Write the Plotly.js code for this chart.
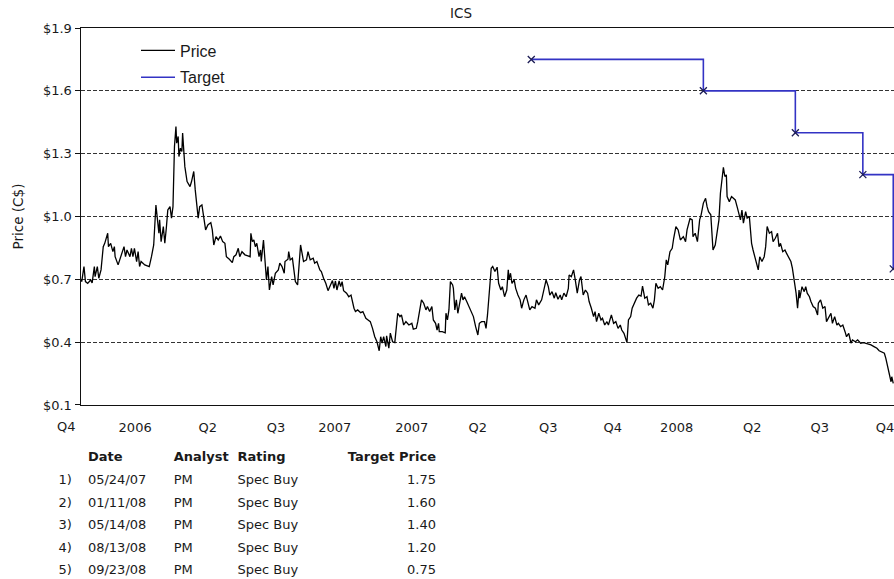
<!DOCTYPE html>
<html>
<head>
<meta charset="utf-8">
<script src="https://cdn.plot.ly/plotly-3.0.1.min.js"></script>
<style>
  html, body { margin: 0; padding: 0; background: #fff; overflow: hidden; }
  #chart { width: 894px; height: 579px; }
</style>
</head>
<body>
<div id="chart"></div>
<script>
// ---------------- data ----------------
const chartTitle = 'ICS';
const priceStart = '2005-09-24';            // day 0 of the price series
// days since priceStart
const priceDay = [
  0,1,4,6,9,13,15,18,19,22,
  24,27,30,32,36,37,40,43,45,46,
  50,52,55,58,60,62,66,68,70,72,
  75,77,79,81,86,92,95,98,101,103,
  105,106,108,111,113,115,117,120,122,124,
  126,128,129,131,132,134,136,137,140,143,
  147,149,152,154,157,158,160,163,166,168,
  171,175,177,179,182,185,188,191,194,196,
  200,204,206,209,212,214,217,221,225,228,
  229,231,233,235,237,240,242,243,246,248,
  250,252,254,257,259,262,266,268,271,274,
  275,279,
  280,282,285,287,289,292,294,296,298,300,
  304,306,309,313,315,318,322,324,327,330,
  333,336,339,341,343,345,348,350,352,354,
  358,361,364,368,370,373,377,380,384,387,
  390,393,396,399,402,404,406,408,411,412,
  415,417,420,423,425,427,430,432,435,438,
  442,446,448,452,454,457,459,462,465,467,
  470,473,475,478,480,482,483,487,491,492,
  494,496,498,501,502,504,506,508,510,513,
  515,517,520,523,526,529,532,535,537,540,
  544,546,548,
  551,553,555,558,561,563,566,568,571,574,
  576,577,579,581,584,586,589,592,594,597,
  600,603,605,608,612,614,617,621,624,627,
  630,632,635,638,640,643,646,648,651,654,
  657,658,661,664,666,669,672,674,677,680,
  683,685,688,691,693,695,698,701,703,706,
  709,711,715,718,721,724,727,729,732,735,
  736,738,741,743,746,749,752,755,757,760,
  763,765,768,771,773,775,778,781,784,787,
  789,791,794,797,799,802,805,808,812,815,
  817,820,
  821,824,825,828,831,834,836,839,842,844,
  846,849,851,852,855,858,860,862,864,866,
  868,870,871,874,877,879,882,885,887,889,
  891,893,896,898,901,904,906,909,911,913,
  915,918,921,923,925,928,931,933,936,939,
  941,943,946,949,951,954,957,959,962,964,
  966,968,969,972,975,977,979,982,984,987,
  990,993,994,997,1000,1003,1005,1008,1011,1013,
  1016,1019,1021,1024,1027,1030,1032,1035,1038,1040,
  1044,1047,1051,1055,1058,1062,1065,1069,1073,1076,
  1080,1083,1085,1088,1090,1092,1093,1095
];
// closing price, C$
const priceValue = [
  0.700,0.689,0.761,0.689,0.681,0.697,0.683,0.761,0.713,0.761,
  0.705,0.745,0.856,0.872,0.920,0.856,0.872,0.832,0.856,0.808,
  0.769,0.793,0.817,0.856,0.808,0.840,0.808,0.848,0.808,0.848,
  0.785,0.832,0.761,0.785,0.769,0.761,0.808,0.864,1.055,0.984,
  0.920,0.984,0.880,0.952,0.872,0.944,1.031,1.047,0.992,1.047,
  1.334,1.429,1.350,1.382,1.286,1.326,1.310,1.398,1.238,1.167,
  1.143,1.167,1.215,1.127,1.031,0.992,1.047,1.055,0.984,0.936,
  0.960,0.971,0.936,0.864,0.904,0.888,0.907,0.880,0.872,0.808,
  0.796,0.780,0.808,0.817,0.848,0.808,0.832,0.817,0.812,0.808,
  0.920,0.880,0.888,0.856,0.872,0.808,0.840,0.785,0.888,0.761,
  0.697,0.761,0.649,0.713,0.673,0.729,0.745,0.777,0.761,0.729,
  0.785,0.796,
  0.832,0.793,0.801,0.745,0.689,0.673,0.793,0.864,0.825,0.785,
  0.793,0.832,0.793,0.801,0.777,0.785,0.745,0.737,0.705,0.681,
  0.646,0.673,0.694,0.657,0.692,0.649,0.692,0.665,0.689,0.646,
  0.634,0.617,0.625,0.562,0.546,0.554,0.541,0.546,0.514,0.506,
  0.498,0.466,0.426,0.402,0.359,0.426,0.395,0.426,0.379,0.430,
  0.371,0.443,0.402,0.398,0.458,0.538,0.522,0.530,0.482,0.498,
  0.482,0.490,0.462,0.466,0.498,0.554,0.602,0.586,0.554,0.570,
  0.546,0.570,0.506,0.490,0.458,0.490,0.450,0.450,0.445,0.538,
  0.506,0.554,0.689,0.673,0.657,0.554,0.602,0.538,0.586,0.634,
  0.602,0.617,0.594,0.570,0.538,0.522,0.474,0.434,0.490,0.498,
  0.498,0.466,0.530,
  0.697,0.753,0.761,0.737,0.758,0.681,0.649,0.665,0.617,0.649,
  0.745,0.697,0.729,0.681,0.697,0.657,0.625,0.602,0.562,0.602,
  0.625,0.578,0.554,0.570,0.562,0.602,0.578,0.602,0.657,0.697,
  0.665,0.625,0.641,0.610,0.636,0.605,0.625,0.602,0.634,0.617,
  0.657,0.721,0.713,0.745,0.705,0.634,0.697,0.713,0.625,0.649,
  0.634,0.594,0.562,0.522,0.546,0.498,0.538,0.506,0.514,0.482,
  0.498,0.482,0.530,0.490,0.498,0.466,0.482,0.458,0.442,0.410,
  0.398,0.506,0.522,0.562,0.586,0.610,0.625,0.620,0.668,0.610,
  0.617,0.578,0.586,0.562,0.602,0.681,0.657,0.665,0.649,0.713,
  0.793,0.769,0.832,0.848,0.896,0.952,0.936,0.888,0.904,0.880,
  0.936,0.987,
  0.990,0.984,0.904,0.920,0.880,0.984,1.008,1.064,1.087,1.047,
  1.023,1.008,0.888,0.840,0.864,0.952,0.984,1.111,1.175,1.235,
  1.191,1.199,1.095,1.071,1.095,1.087,1.079,1.040,1.016,0.984,
  1.031,0.968,1.023,0.992,1.000,0.872,0.840,0.793,0.777,0.745,
  0.808,0.785,0.808,0.856,0.952,0.920,0.928,0.880,0.896,0.920,
  0.856,0.872,0.832,0.840,0.825,0.808,0.785,0.753,0.689,0.634,
  0.562,0.649,0.610,0.665,0.641,0.665,0.634,0.617,0.594,0.570,
  0.562,0.530,0.586,0.602,0.562,0.570,0.498,0.522,0.538,0.490,
  0.522,0.482,0.490,0.474,0.482,0.450,0.426,0.442,0.395,0.411,
  0.402,0.411,0.395,0.398,0.395,0.391,0.387,0.379,0.371,0.359,
  0.350,0.347,0.323,0.267,0.243,0.211,0.235,0.203
];

// analyst targets (table + target line)
const targetDates   = ['2007-05-24', '2008-01-11', '2008-05-14', '2008-08-13', '2008-09-23'];
const targetAnalyst = ['PM', 'PM', 'PM', 'PM', 'PM'];
const targetRating  = ['Spec Buy', 'Spec Buy', 'Spec Buy', 'Spec Buy', 'Spec Buy'];
const targetPrices  = [1.75, 1.60, 1.40, 1.20, 0.75];
const tableHeader   = ['', 'Date', 'Analyst', 'Rating', 'Target Price'];

// axes
const xRange     = ['2005-09-24', '2008-09-24'];
const xTickVals  = ['2005-12-06', '2006-03-14', '2006-06-14', '2006-09-01', '2006-12-14', '2007-03-13',
                    '2007-06-16', '2007-09-11', '2007-12-06', '2008-03-17', '2008-06-16', '2008-09-12'];
const xTickText  = ['2006', 'Q2', 'Q3', '2007', '2007', 'Q2', 'Q3', 'Q4', '2008', 'Q2', 'Q3', 'Q4'];
const xFirstLabel = 'Q4';
const yTickVals  = [0.1, 0.4, 0.7, 1.0, 1.3, 1.6, 1.9];
const yTickText  = ['$0.1', '$0.4', '$0.7', '$1.0', '$1.3', '$1.6', '$1.9'];

// ---------------- build ----------------
const t0 = Date.parse(priceStart + 'T00:00:00Z');
const priceDates = priceDay.map(d => new Date(t0 + d * 86400000).toISOString().slice(0, 10));
const tableDates = targetDates.map(s => s.slice(5, 7) + '/' + s.slice(8, 10) + '/' + s.slice(2, 4));
const rowLabels = targetDates.map((_, i) => (i + 1) + ')');

const FONT = 'DejaVu Sans, Verdana, sans-serif';
const TXT = '#1a1a1a';

const traces = [
  {
    type: 'scatter', mode: 'lines', name: 'Price',
    x: priceDates, y: priceValue,
    line: {color: '#000000', width: 1.3},
    legendgroup: 'p', hoverinfo: 'skip'
  },
  {
    type: 'scatter', mode: 'lines', name: 'Target',
    x: targetDates, y: targetPrices,
    line: {color: '#3333c4', width: 1.6, shape: 'hv'},
    legendgroup: 't', hoverinfo: 'skip'
  },
  {
    type: 'scatter', mode: 'markers', name: 'Target',
    x: targetDates, y: targetPrices, showlegend: false,
    marker: {symbol: 'x-thin-open', size: 7, color: '#1c1c55', line: {color: '#1c1c55', width: 1.3}},
    hoverinfo: 'skip'
  },
  {
    type: 'table',
    domain: {x: [0, 0.468], y: [0, 0.2464]},
    columnwidth: [30, 86, 64, 105, 110],
    header: {
      values: tableHeader,
      align: ['right', 'left', 'left', 'left', 'right'],
      height: 23.5,
      fill: {color: '#ffffff'},
      line: {color: '#ffffff', width: 0},
      font: {family: FONT, size: 13, color: TXT, weight: 'bold'}
    },
    cells: {
      values: [rowLabels, tableDates, targetAnalyst, targetRating, targetPrices],
      format: ['', '', '', '', '.2f'],
      align: ['right', 'left', 'left', 'left', 'right'],
      height: 22.4,
      fill: {color: '#ffffff'},
      line: {color: '#ffffff', width: 0},
      font: {family: FONT, size: 13, color: TXT}
    }
  }
];

const layout = {
  width: 894, height: 579,
  margin: {l: 50, r: 0, t: 28, b: 0, pad: 0},
  paper_bgcolor: '#ffffff', plot_bgcolor: '#ffffff',
  font: {family: FONT, size: 13, color: TXT},
  title: {
    text: chartTitle, xref: 'container', yref: 'container',
    x: 0.5157, xanchor: 'center', y: 0.977, yanchor: 'middle',
    font: {family: FONT, size: 13.5, color: TXT}
  },
  showlegend: true,
  legend: {
    x: 0.1019, y: 0.99, xanchor: 'left', yanchor: 'top',
    bgcolor: 'rgba(0,0,0,0)', borderwidth: 0, tracegroupgap: 3, itemwidth: 34,
    font: {family: 'Liberation Sans, Arial, sans-serif', size: 16, color: TXT}
  },
  xaxis: {
    type: 'date', domain: [0.03673, 1], range: xRange, anchor: 'y',
    tickmode: 'array', tickvals: xTickVals, ticktext: xTickText,
    ticks: '', showgrid: false, zeroline: false,
    showline: true, mirror: true, linecolor: '#111111', linewidth: 1.5,
    ticklabelstandoff: 10, ticklabeloverflow: 'allow',
    tickfont: {family: FONT, size: 13, color: TXT}
  },
  yaxis: {
    domain: [0.3158, 1], range: [0.1, 1.9], anchor: 'x',
    tickmode: 'array', tickvals: yTickVals, ticktext: yTickText,
    ticks: 'outside', ticklen: 5, tickwidth: 1, tickcolor: '#111111',
    showgrid: true, gridcolor: '#333333', gridwidth: 1, griddash: '4px,2px',
    zeroline: false, showline: true, linecolor: '#111111', linewidth: 1.5,
    tickfont: {family: FONT, size: 13, color: TXT},
    title: {text: 'Price (C$)', standoff: 16, font: {family: FONT, size: 13.5, color: TXT}}
  },
  annotations: [
    {text: xFirstLabel, xref: 'paper', yref: 'paper', x: 0.0198, y: 0.2764,
     xanchor: 'center', yanchor: 'middle', showarrow: false,
     font: {family: FONT, size: 13, color: TXT}}
  ]
};

Plotly.newPlot('chart', traces, layout, {staticPlot: true, displayModeBar: false});
</script>
</body>
</html>
